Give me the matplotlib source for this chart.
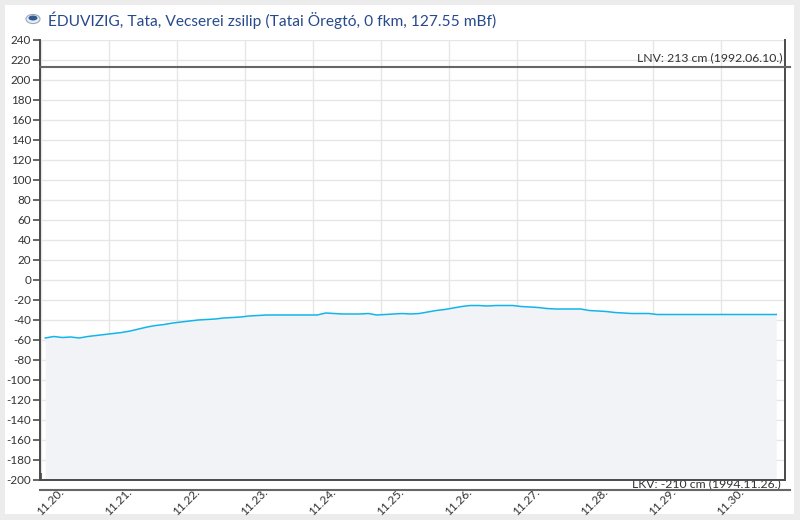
import matplotlib
matplotlib.use("Agg")
import matplotlib.pyplot as plt
import matplotlib.patches as mpatches
import matplotlib.dates as mdates
import matplotlib.transforms as mtransforms
import pandas as pd

# ── data: water level (cm), 3-hourly readings ──
start = "2024-11-20 01:30"
step = "3h"
levels = [
    -58, -56.5, -57.5, -57, -58, -56.5, -55.5, -54.5,
    -53.5, -52.5, -51, -49, -47, -45.5, -44.5, -43,
    -42, -41, -40, -39.5, -39, -38, -37.5, -37,
    -36, -35.5, -35, -35, -35, -35, -35, -35,
    -35, -33, -33.5, -34, -34, -34, -33.5, -35,
    -34.5, -34, -33.5, -34, -33.5, -32, -30.5, -29.5,
    -28, -26.5, -25.5, -25.5, -26, -25.5, -25.5, -25.5,
    -26.5, -27, -27.5, -28.5, -29, -29, -29, -29,
    -30.5, -31, -31.5, -32.5, -33, -33.5, -33.5, -33.5,
    -34.5, -34.5, -34.5, -34.5, -34.5, -34.5, -34.5, -34.5,
    -34.5, -34.5, -34.5, -34.5, -34.5, -34.5, -34.5,
]
times = pd.date_range(start, periods=len(levels), freq=step)

day_ticks = pd.date_range("2024-11-20", "2024-11-30", freq="D")
day_labels = [d.strftime("%m.%d.") for d in day_ticks]
y_ticks = list(range(-200, 241, 20))

lnv_value, lnv_label = 213, "LNV: 213 cm (1992.06.10.)"
lkv_value, lkv_label = -210, "LKV: -210 cm (1994.11.26.)"
title = "ÉDUVIZIG, Tata, Vecserei zsilip (Tatai Öregtó, 0 fkm, 127.55 mBf)"

COLORS = {
    "page_bg": "#ececec",
    "panel": "#ffffff",
    "grid": "#e6e6e6",
    "axis": "#4a4a4a",
    "text": "#333333",
    "title": "#274a8c",
    "line": "#12b5ea",
    "fill": "#f2f3f7",
    "limit": "#666666",
}
FONT = "Lato"

fig = plt.figure(figsize=(8.0, 5.2), dpi=100, facecolor=COLORS["page_bg"])
fig.patches.append(mpatches.Rectangle(
    (5 / 800, 6 / 520), 789 / 800, 509 / 520,
    transform=fig.transFigure, facecolor=COLORS["panel"],
    edgecolor="none", zorder=-10))

ax = fig.add_axes([40 / 800, 40 / 520, 745 / 800, 440 / 520])
ax.set_facecolor("none")

# data series
ax.fill_between(times, levels, -200, color=COLORS["fill"], linewidth=0,
                zorder=1)
ax.plot(times, levels, color=COLORS["line"], linewidth=1.1, zorder=3)

# limits
x0 = mdates.date2num(pd.Timestamp("2024-11-20")) - 1 / 68
x1 = mdates.date2num(pd.Timestamp("2024-11-20")) + 744 / 68
ax.set_xlim(x0, x1)
ax.set_ylim(-200, 240)

# LNV / LKV reference lines (extend a little past the plot)
blend = mtransforms.blended_transform_factory(ax.transAxes, ax.transData)
for val in (lnv_value, lkv_value):
    ax.plot([0, 1.0067], [val, val], transform=blend, clip_on=False,
            color=COLORS["limit"], linewidth=1.5, zorder=4)
ax.text(0.996, lnv_value + 4, lnv_label, transform=blend, ha="right",
        va="bottom", fontsize=8.8, color=COLORS["text"], family=FONT)
ax.text(0.9946, lkv_value + 1, lkv_label, transform=blend, ha="right",
        va="bottom", fontsize=8.8, color=COLORS["text"], family=FONT,
        zorder=2)

# grid
ax.set_yticks(y_ticks)
ax.set_xticks(day_ticks)
ax.set_axisbelow(True)
ax.grid(True, color=COLORS["grid"], linewidth=1.0, zorder=0)

# spines
ax.spines["top"].set_visible(False)
for side in ["left", "bottom", "right"]:
    ax.spines[side].set_color(COLORS["axis"])
    ax.spines[side].set_linewidth(1.4)

ax.tick_params(axis="y", direction="out", length=5, width=1.2,
               color=COLORS["axis"], pad=1.5, labelsize=8.4,
               labelcolor=COLORS["text"])
ax.set_yticklabels([str(v) for v in y_ticks], family=FONT)
ax.tick_params(axis="x", direction="in", length=5, width=1.2,
               color=COLORS["axis"], labelbottom=False)

# rotated date labels, shifted right of their ticks
xblend = mtransforms.blended_transform_factory(ax.transData, ax.transAxes)
lab_tr = xblend + mtransforms.ScaledTranslation(9 / 100, 0, fig.dpi_scale_trans)
for d, lab in zip(day_ticks, day_labels):
    ax.text(mdates.date2num(d), -22 / 440, lab, transform=lab_tr,
            rotation=45, ha="center", va="center", fontsize=8.6,
            color=COLORS["text"], family=FONT, clip_on=False)

# title with small emblem
fig.patches.append(mpatches.Circle(
    (33 / 800, 1 - 19 / 520), 7 / 800, transform=fig.transFigure,
    facecolor="#e8edf3", edgecolor="#9aa8bb", linewidth=0.8, zorder=-5))
fig.patches.append(mpatches.Ellipse(
    (33 / 800, 1 - 18 / 520), 9 / 800, 5 / 520, transform=fig.transFigure,
    facecolor="#2f5a92", edgecolor="none", zorder=-4))
fig.text(48 / 800, 1 - 20 / 520, title, ha="left", va="center",
         fontsize=11.2, color=COLORS["title"], family=FONT)

fig.savefig("out.png", dpi=100, facecolor=fig.get_facecolor())
